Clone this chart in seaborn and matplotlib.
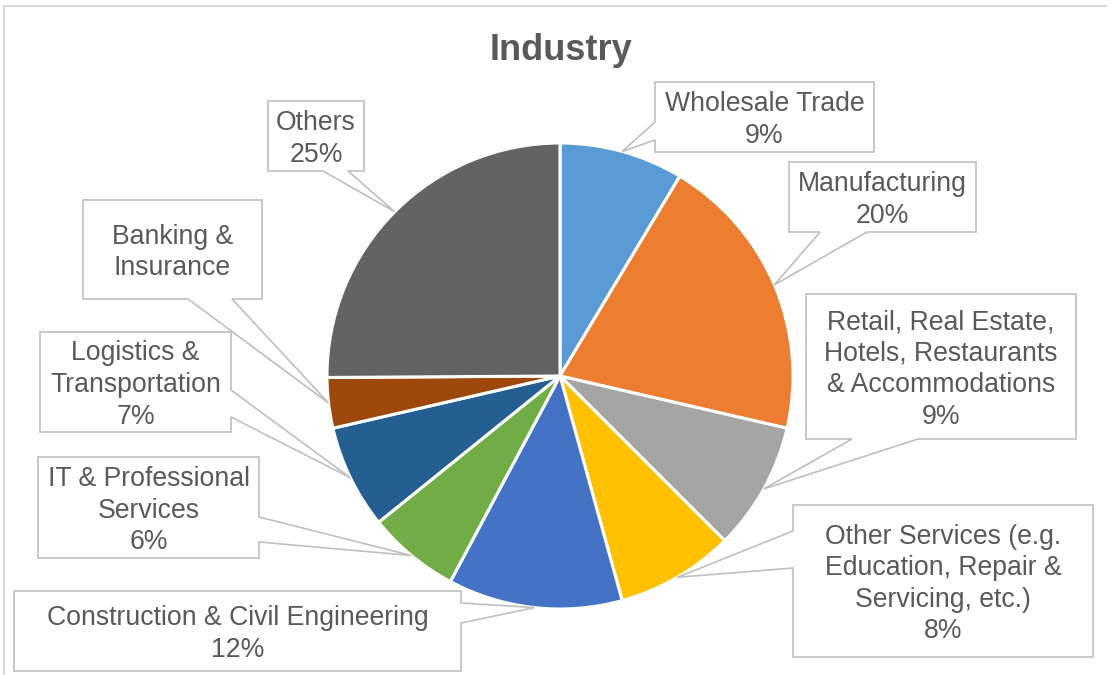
import matplotlib
matplotlib.use("Agg")
import matplotlib.pyplot as plt
from matplotlib.patches import Polygon
import numpy as np
import seaborn as sns

# ---- data ----
industries = ["Wholesale Trade", "Manufacturing",
              "Retail, Real Estate,\nHotels, Restaurants\n& Accommodations",
              "Other Services (e.g.\nEducation, Repair &\nServicing, etc.)",
              "Construction & Civil Engineering",
              "IT & Professional\nServices",
              "Logistics &\nTransportation",
              "Banking &\nInsurance",
              "Others"]
shares = [8.6, 20.0, 8.9, 8.2, 12.1, 6.4, 7.2, 3.5, 25.1]
pct_labels = ["9%", "20%", "9%", "8%", "12%", "6%", "7%", "", "25%"]
colors = ["#5B9BD5", "#ED7D31", "#A5A5A5", "#FFC000", "#4472C4",
          "#70AD47", "#255E91", "#9E480E", "#636363"]

# callout layout in image pixels: box (x0, y0, x1, y1), side of tail, tail base
callouts = [
    ((655, 82, 874, 152), "left", (122, 140)),
    ((789, 162, 976, 232), "bottom", (820, 867)),
    ((806, 294, 1076, 439), "bottom", (852, 918)),
    ((793, 505, 1093, 657), "left", (531, 568)),
    ((14, 591, 461, 671), "right", (603, 623)),
    ((38, 457, 259, 558), "right", (517, 542)),
    ((40, 332, 231, 432), "right", (390, 417)),
    ((83, 200, 262, 299), "bottom", (188, 232)),
    ((268, 101, 364, 171), "bottom", (323, 348)),
]

W, H = 1107, 675
CX, CY, R = 560, 376, 233
TEXT = "#595959"
EDGE = "#BFBFBF"

sns.set_theme(style="white")
plt.rcParams['font.family'] = ['Liberation Sans', 'DejaVu Sans']

fig = plt.figure(figsize=(W / 100, H / 100), dpi=100)
ax = fig.add_axes([0, 0, 1, 1])


def pt(x, y):
    # image pixel -> data coords (y up)
    return (x, H - y)


wedges, _ = ax.pie(shares, colors=sns.color_palette(colors), startangle=90,
                   counterclock=False, center=pt(CX, CY), radius=R,
                   wedgeprops=dict(edgecolor="white", linewidth=2.2))
ax.set_xlim(0, W)
ax.set_ylim(0, H)
ax.set_aspect("equal")
ax.axis("off")

for w, name, pct, (box, side, tail) in zip(wedges, industries, pct_labels, callouts):
    mid = np.deg2rad((w.theta1 + w.theta2) / 2)
    anchor = (CX + R * np.cos(mid), CY - R * np.sin(mid))
    x0, y0, x1, y1 = box
    a, b = tail
    pts = [(x0, y0), (x1, y0)]
    if side == "right":
        pts += [(x1, a), anchor, (x1, b)]
    pts += [(x1, y1)]
    if side == "bottom":
        pts += [(b, y1), anchor, (a, y1)]
    pts += [(x0, y1)]
    if side == "left":
        pts += [(x0, b), anchor, (x0, a)]
    poly = Polygon([pt(*p) for p in pts], closed=True, facecolor="white",
                   edgecolor=EDGE, linewidth=1.2, zorder=3)
    ax.add_patch(poly)
    txt = name if pct == "" else name + "\n" + pct
    ax.text(*pt((x0 + x1) / 2, (y0 + y1) / 2 + 3), txt, ha="center", va="center",
            fontsize=19.2, color=TEXT, linespacing=1.28, zorder=4)

ax.text(*pt(561, 50), "Industry", ha="center", va="center", fontsize=26,
        fontweight="bold", color=TEXT)

# chart area border (only top and left visible)
ax.plot([4, W], [H - 6, H - 6], color="#D9D9D9", linewidth=1.5, clip_on=False)
ax.plot([4, 4], [H - 6, 0], color="#D9D9D9", linewidth=1.5, clip_on=False)

fig.savefig("out.png", dpi=100, facecolor="white")
